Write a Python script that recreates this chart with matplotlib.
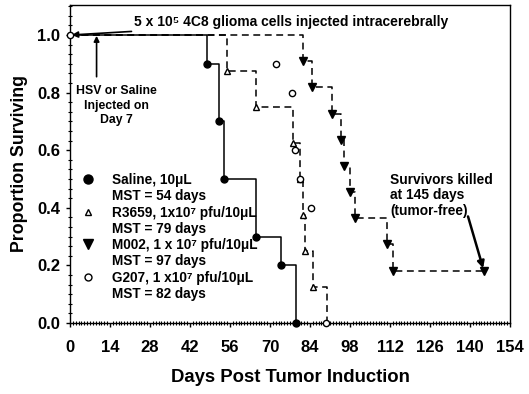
import matplotlib
matplotlib.use("Agg")
import matplotlib.pyplot as plt
from matplotlib.lines import Line2D
from matplotlib.ticker import MultipleLocator, FormatStrFormatter

plt.rcParams['font.family'] = ['Liberation Sans', 'DejaVu Sans']
plt.rcParams['font.weight'] = 'bold'

# ---- data ----
saline_days = [0, 48, 52, 54, 65, 74, 79]
saline_surv = [1.0, 0.9, 0.7, 0.5, 0.3, 0.2, 0.0]

r3659_days = [0, 55, 65, 78, 80.5, 81.6, 82.3, 85, 90]
r3659_surv = [1.0, 0.875, 0.75, 0.625, 0.5, 0.375, 0.25, 0.125, 0.0]

m002_days = [0, 81.7, 84.8, 91.6, 94.9, 95.9, 98, 99.8, 110.8, 113.2, 145]
m002_surv = [1.0, 0.909, 0.818, 0.727, 0.636, 0.545, 0.455, 0.364, 0.273, 0.182, 0.182]

g207_days = [0, 72, 77.6, 78.8, 80.5, 84.4, 89.6]
g207_surv = [1.0, 0.9, 0.8, 0.6, 0.5, 0.4, 0.0]

legend_labels = ["Saline, 10\u03bcL", "MST = 54 days",
                 "R3659, 1x10\u2077 pfu/10\u03bcL", "MST = 79 days",
                 "M002, 1 x 10\u2077 pfu/10\u03bcL", "MST = 97 days",
                 "G207, 1 x10\u2077 pfu/10\u03bcL", "MST = 82 days"]

x_ticks = list(range(0, 155, 14))
y_ticks = [0.0, 0.2, 0.4, 0.6, 0.8, 1.0]

fig = plt.figure(figsize=(5.29, 3.94), dpi=100)
ax = fig.add_axes([70/529, 1-323/394, 440/529, 318/394])

dash = (0, (4.5, 3))
lw = 1.1

# saline
ax.plot(saline_days, saline_surv, drawstyle='steps-post', color='black', lw=lw, zorder=3)
ax.plot(saline_days[1:], saline_surv[1:], 'o', color='black', ms=5, clip_on=False, zorder=4)

# R3659
ax.plot(r3659_days, r3659_surv, drawstyle='steps-post', color='black', lw=lw, ls=dash, zorder=2)
ax.plot(r3659_days[1:-1], r3659_surv[1:-1], '^', mfc='white', mec='black', mew=1.0, ms=5,
        clip_on=False, zorder=4)

# M002
ax.plot(m002_days, m002_surv, drawstyle='steps-post', color='black', lw=lw, ls=dash, zorder=2)
ax.plot(m002_days[1:], m002_surv[1:], 'v', color='black', ms=5.5, clip_on=False, zorder=4)

# G207 (markers only)
ax.plot(g207_days, g207_surv, 'o', mfc='white', mec='black', mew=1.0, ms=4.5, clip_on=False, zorder=5)

ax.set_xlim(0, 154)
ax.set_ylim(0, 1.104)
ax.set_xticks(x_ticks)
ax.set_yticks(y_ticks)
ax.yaxis.set_major_formatter(FormatStrFormatter('%.1f'))
ax.xaxis.set_minor_locator(MultipleLocator(1))
ax.yaxis.set_minor_locator(MultipleLocator(0.2/6))
ax.tick_params(which='major', direction='out', length=3, width=1, labelsize=12)
ax.tick_params(axis='x', which='major', pad=9)
ax.tick_params(axis='y', which='major', pad=4)
ax.tick_params(which='minor', direction='inout', length=2.5, width=0.8)
for lab in ax.get_xticklabels() + ax.get_yticklabels():
    lab.set_fontweight('bold')
for s in ax.spines.values():
    s.set_linewidth(1.0)

ax.set_xlabel("Days Post Tumor Induction", fontsize=13.3, fontweight='bold', labelpad=10)
ax.set_ylabel("Proportion Surviving", fontsize=12.8, fontweight='bold', labelpad=7)

# legend
blank = Line2D([], [], linestyle='none', marker=None)
handles = [Line2D([], [], ls='none', marker='o', color='black', ms=6.5), blank,
           Line2D([], [], ls='none', marker='^', mfc='white', mec='black', ms=5), blank,
           Line2D([], [], ls='none', marker='v', color='black', ms=6.5), blank,
           Line2D([], [], ls='none', marker='o', mfc='white', mec='black', ms=5), blank]
leg = ax.legend(handles, legend_labels, loc='upper left', bbox_to_anchor=(0.025, 0.472),
                frameon=False, fontsize=9.8, labelspacing=0.17, handlelength=1.0,
                handletextpad=1.3, borderpad=0, borderaxespad=0)
for t in leg.get_texts():
    t.set_fontweight('bold')

# annotations
ax.annotate("5 x 10\u2075 4C8 glioma cells injected intracerebrally", xy=(0.6, 1.0),
            xytext=(22.5, 1.045), ha='left', va='center', fontsize=10, fontweight='bold',
            arrowprops=dict(arrowstyle='-|>', color='black', lw=1.2, mutation_scale=9,
                            shrinkA=0, shrinkB=0), annotation_clip=False)

ax.annotate("", xy=(9.3, 0.997), xytext=(9.3, 0.855),
            arrowprops=dict(arrowstyle='-|>', color='black', lw=1.2, mutation_scale=8,
                            shrinkA=0, shrinkB=0))
ax.text(16.2, 0.755, "HSV or Saline\nInjected on\nDay 7", ha='center', va='center',
        fontsize=8.8, fontweight='bold', linespacing=1.25)

ax.text(112, 0.443, "Survivors killed\nat 145 days\n(tumor-free)", ha='left', va='center',
        fontsize=9.9, fontweight='bold', linespacing=1.15)
ax.annotate("", xy=(144.6, 0.19), xytext=(139.3, 0.37),
            arrowprops=dict(arrowstyle='-|>', color='black', lw=1.8, mutation_scale=10,
                            shrinkA=0, shrinkB=0))

fig.savefig("out.png", dpi=100)
